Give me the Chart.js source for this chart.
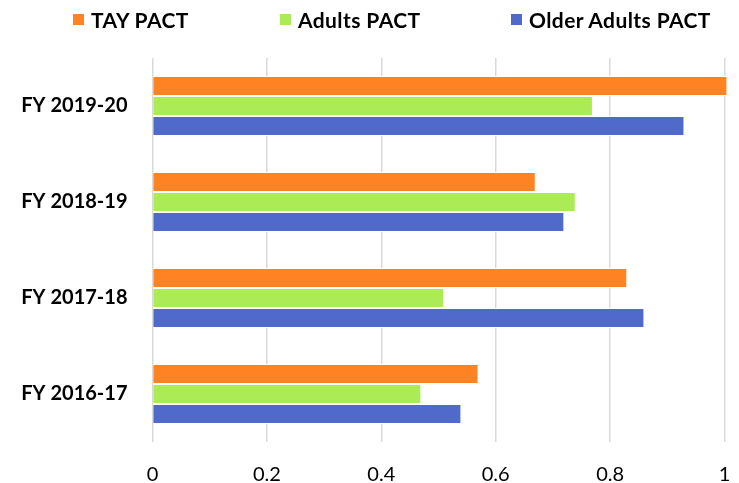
<!DOCTYPE html>
<html>
<head>
<meta charset="utf-8">
<title>PACT</title>
<script src="https://cdn.jsdelivr.net/npm/chart.js@4.4.1/dist/chart.umd.min.js"></script>
<style>
    html, body { margin: 0; padding: 0; background: #fff; }
    #wrap { position: relative; width: 739px; height: 483px; }
    #chart { position: absolute; left: 0; top: 0; }
    .legend-item {
        position: absolute; top: 9.5px; height: 20px;
        display: flex; align-items: center;
        font: bold 21px Lato, sans-serif; line-height: 20px; color: #000;
        letter-spacing: 0.4px;
        white-space: nowrap;
    }
    .legend-item span.box { width: 11px; height: 11px; margin-right: 7px; }
</style>
</head>
<body>
<div id="wrap">
    <canvas id="chart" width="739" height="483"></canvas>
</div>
<script>
// Dados do gráfico (de cima para baixo)
const categories = ['FY 2019-20', 'FY 2018-19', 'FY 2017-18', 'FY 2016-17'];
const tayPact = [1.005, 0.67, 0.83, 0.57];
const adultsPact = [0.77, 0.74, 0.51, 0.47];
const olderAdultsPact = [0.93, 0.72, 0.86, 0.54];
const xTicks = [0, 0.2, 0.4, 0.6, 0.8, 1];

const seriesNames = ['TAY PACT', 'Adults PACT', 'Older Adults PACT'];
const seriesColors = ['#FF8322', '#ABEB55', '#4F6ACA'];

// Legenda em HTML (posição à esquerda de cada item)
const legendLeft = [73, 280, 511];
const wrap = document.getElementById('wrap');
seriesNames.forEach((name, i) => {
    const item = document.createElement('div');
    item.className = 'legend-item';
    item.style.left = legendLeft[i] + 'px';
    const box = document.createElement('span');
    box.className = 'box';
    box.style.background = seriesColors[i];
    const label = document.createElement('span');
    label.textContent = name;
    item.appendChild(box);
    item.appendChild(label);
    wrap.appendChild(item);
});

const makeDataset = (i, values) => ({
    label: seriesNames[i],
    data: values,
    backgroundColor: seriesColors[i],
    borderColor: '#ffffff',
    borderWidth: 1,
    borderSkipped: 'start',
    categoryPercentage: 0.625,
    barPercentage: 1,
    clip: { left: 0, top: 0, right: 3, bottom: 0 }
});

new Chart(document.getElementById('chart'), {
    type: 'bar',
    data: {
        labels: categories,
        datasets: [
            makeDataset(0, tayPact),
            makeDataset(1, adultsPact),
            makeDataset(2, olderAdultsPact)
        ]
    },
    options: {
        indexAxis: 'y',
        responsive: false,
        animation: false,
        layout: { padding: { top: 58, right: 14.5, bottom: 0, left: 0 } },
        plugins: {
            legend: { display: false },
            tooltip: { enabled: false }
        },
        scales: {
            x: {
                min: 0,
                max: 1,
                afterBuildTicks: s => { s.ticks = xTicks.map(v => ({ value: v })); },
                afterFit: s => {
                    s.height = 41;
                    s.paddingLeft = 0;
                    s.paddingRight = 0;
                },
                grid: { color: '#D9D9D9', lineWidth: 1.5, drawTicks: false },
                border: { display: false },
                ticks: {
                    padding: 21,
                    color: '#000',
                    maxRotation: 0,
                    font: { family: 'Lato', size: 20 },
                    callback: v => String(v)
                }
            },
            y: {
                afterFit: s => { s.width = 152.5; },
                grid: { display: false, drawTicks: false },
                border: { display: false },
                ticks: {
                    padding: 25,
                    color: '#000',
                    font: { family: 'Lato', size: 20, weight: 'bold' }
                }
            }
        }
    }
});
</script>
</body>
</html>
